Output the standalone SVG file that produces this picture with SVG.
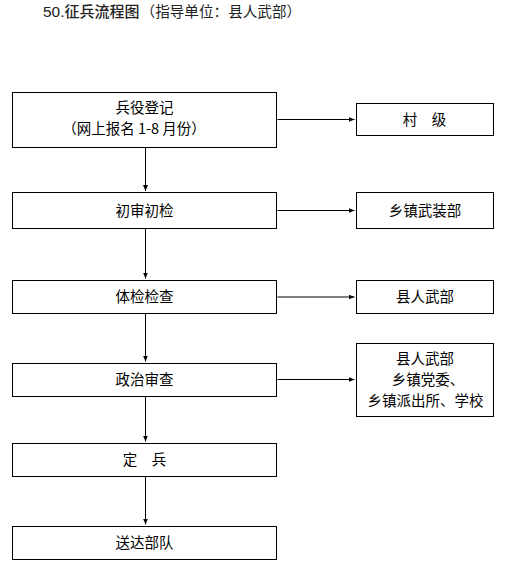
<svg xmlns="http://www.w3.org/2000/svg" width="510" height="572" viewBox="0 0 510 572">
<defs>
<style>
.box{fill:#fff;stroke:#000;stroke-width:1}
.t{font-family:"Noto Sans CJK SC","Noto Sans",sans-serif;font-size:14.5px;fill:#000;text-anchor:middle;dominant-baseline:central}
.c{stroke:#000;stroke-width:1;fill:none;marker-end:url(#ah)}
</style>
<marker id="ah" markerUnits="userSpaceOnUse" markerWidth="7" markerHeight="6" refX="6" refY="3" orient="auto">
<path d="M0,0.5 L6,3 L0,5.5 z" fill="#000"/>
</marker>
</defs>
<rect width="510" height="572" fill="#fff"/>
<g id="title">
<text x="43" y="16.5" style="font-family:'Liberation Sans','Noto Sans CJK SC',sans-serif;font-size:15.5px;font-weight:500;fill:#222">50.<tspan style="font-family:'Noto Sans CJK SC',sans-serif;font-size:15px">征兵流程图</tspan><tspan dx="1" style="font-family:'Noto Sans CJK SC',sans-serif;font-weight:normal;font-size:14.6px;fill:#222">（指导单位：县人武部）</tspan></text>
</g>
<g id="connectors">
<line class="c" x1="145.5" y1="147.5" x2="145.5" y2="191"/>
<line class="c" x1="145.5" y1="228.5" x2="145.5" y2="278.5"/>
<line class="c" x1="145.5" y1="313.5" x2="145.5" y2="361.5"/>
<line class="c" x1="145.5" y1="396.5" x2="145.5" y2="441.5"/>
<line class="c" x1="145.5" y1="476.5" x2="145.5" y2="524.5"/>
<line class="c" x1="277.5" y1="119.5" x2="354.5" y2="119.5"/>
<line class="c" x1="277.5" y1="210.5" x2="354.5" y2="210.5"/>
<line class="c" x1="277.5" y1="297" x2="354.5" y2="297"/>
<line class="c" x1="277.5" y1="379.5" x2="354.5" y2="379.5"/>
</g>
<g id="n1">
<rect class="box" x="12.5" y="92.5" width="264" height="55"/>
<text class="t" x="144.5" y="106.5">兵役登记</text>
<text class="t" x="134" y="127">（网上报名 1-8 月份）</text>
</g>
<g id="n2">
<rect class="box" x="12.5" y="192.5" width="264" height="36"/>
<text class="t" x="144.5" y="209">初审初检</text>
</g>
<g id="n3">
<rect class="box" x="12.5" y="280.5" width="264" height="33"/>
<text class="t" x="144.5" y="295.5">体检检查</text>
</g>
<g id="n4">
<rect class="box" x="12.5" y="363.5" width="264" height="33"/>
<text class="t" x="144.5" y="378.5">政治审查</text>
</g>
<g id="n5">
<rect class="box" x="12.5" y="443.5" width="264" height="33"/>
<text class="t" x="144.5" y="458.5">定　兵</text>
</g>
<g id="n6">
<rect class="box" x="12.5" y="526.5" width="264" height="33"/>
<text class="t" x="144.5" y="541.5">送达部队</text>
</g>
<g id="r1">
<rect class="box" x="356.5" y="103.5" width="137" height="32"/>
<text class="t" x="424.5" y="118">村　级</text>
</g>
<g id="r2">
<rect class="box" x="356.5" y="192.5" width="137" height="36"/>
<text class="t" x="425" y="209">乡镇武装部</text>
</g>
<g id="r3">
<rect class="box" x="356.5" y="280.5" width="137" height="33"/>
<text class="t" x="425" y="295.5">县人武部</text>
</g>
<g id="r4">
<rect class="box" x="356.5" y="343.5" width="137" height="73"/>
<text class="t" x="425" y="357">县人武部</text>
<text class="t" x="428" y="378.5">乡镇党委、</text>
<text class="t" x="425.5" y="399.5">乡镇派出所、学校</text>
</g>
</svg>
